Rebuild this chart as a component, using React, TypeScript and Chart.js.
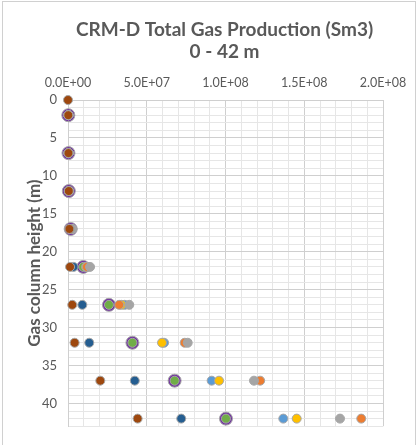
import React, { useEffect, useRef } from "react";
import { Chart, registerables } from "chart.js";

Chart.register(...registerables);

const depths = [0, 2, 7, 12, 17, 22, 27, 32, 37, 42];

const brownVals = [0, 0.2e6, 0.3e6, 0.5e6, 0.9e6, 1.3e6, 2.7e6, 4.2e6, 2.05e7, 4.42e7];
const darkBlueVals = [null, 0.2e6, 0.3e6, 0.5e6, 1.2e6, 3.5e6, 9.1e6, 1.35e7, 4.24e7, 7.19e7];
const grayVals = [null, 0.3e6, 0.4e6, 0.7e6, 2.8e6, 1.4e7, 3.89e7, 7.6e7, 1.181e8, 1.727e8];
const orangeVals = [null, 0.3e6, 0.4e6, 0.7e6, 2.2e6, 1.2e7, 3.25e7, 7.41e7, 1.22e8, 1.862e8];
const yellowVals = [null, 0.3e6, 0.4e6, 0.6e6, 2.0e6, 1.15e7, 3.4e7, 5.97e7, 9.59e7, 1.452e8];
const lightBlueVals = [null, 0.3e6, 0.4e6, 0.6e6, 2.0e6, 1.2e7, 3.6e7, 6.1e7, 9.12e7, 1.367e8];
const greenVals = [null, 0.2e6, 0.3e6, 0.5e6, 1.7e6, 9.7e6, 2.6e7, 4.09e7, 6.77e7, 1.003e8];
const purpleVals = [null, 0.2e6, 0.3e6, 0.5e6, 1.7e6, 9.7e6, 2.6e7, 4.09e7, 6.77e7, 1.003e8];

const xTickLabels = ["0.0E+00", "5.0E+07", "1.0E+08", "1.5E+08", "2.0E+08"];

const titleLines = ["CRM-D Total Gas Production (Sm3)", "0 - 42 m"];
const yTitle = "Gas column height (m)";

function toPoints(vals: (number | null)[]) {
  const out: { x: number; y: number }[] = [];
  vals.forEach((v, i) => {
    if (v !== null) out.push({ x: v, y: depths[i] });
  });
  return out;
}

const MAJOR = "#cfcfcf";
const MINOR = "#e6e6e6";
const TEXT = "#595959";
const FONT = "Lato, 'Open Sans', sans-serif";

const titlePlugin = {
  id: "fixedTitle",
  afterDraw(chart: any) {
    const ctx = chart.ctx;
    ctx.save();
    ctx.fillStyle = TEXT;
    ctx.font = `bold 19px ${FONT}`;
    ctx.textAlign = "center";
    ctx.textBaseline = "middle";
    ctx.fillText(titleLines[0], 224.5, 30);
    ctx.fillText(titleLines[1], 224.5, 52);
    ctx.restore();
  },
};

export default function App() {
  const ref = useRef<HTMLCanvasElement | null>(null);

  useEffect(() => {
    if (!ref.current) return;
    const mk = (label: string, vals: (number | null)[], color: string, r: number) => ({
      label,
      data: toPoints(vals),
      backgroundColor: color,
      borderColor: "#a6a6a6",
      borderWidth: 1,
      pointRadius: r,
      pointHoverRadius: r,
      showLine: false,
      clip: false as const,
    });
    const chart = new Chart(ref.current, {
      type: "scatter",
      data: {
        datasets: [
          mk("Series 8", brownVals, "#9E480E", 4.5),
          mk("Series 7", darkBlueVals, "#255E91", 4.5),
          mk("Series 6", grayVals, "#A5A5A5", 4.5),
          mk("Series 5", orangeVals, "#ED7D31", 4.5),
          mk("Series 4", yellowVals, "#FFC000", 4.5),
          mk("Series 3", lightBlueVals, "#5B9BD5", 4.5),
          mk("Series 2", greenVals, "#70AD47", 4.5),
          mk("Series 1", purpleVals, "#7030A0", 6.5),
        ],
      },
      plugins: [titlePlugin],
      options: {
        responsive: false,
        animation: false,
        layout: { padding: { left: 0, right: 34, top: 63, bottom: 12 } },
        plugins: {
          legend: { display: false },
          tooltip: { enabled: false },
          title: { display: false },
        },
        scales: {
          x: {
            type: "linear",
            position: "top",
            min: 0,
            max: 2e8,
            afterFit: (s: any) => {
              s.height = 37;
            },
            ticks: {
              stepSize: 1e7,
              autoSkip: false,
              maxRotation: 0,
              padding: 10,
              color: TEXT,
              font: { family: FONT, size: 12.5 },
              callback: (v: any) => {
                const n = Number(v);
                if (Math.round(n / 1e7) % 5 !== 0) return "";
                return xTickLabels[Math.round(n / 5e7)] ?? "";
              },
            },
            grid: {
              drawTicks: false,
              color: (c: any) =>
                Math.round(c.tick.value / 1e7) % 5 === 0 ? MAJOR : MINOR,
            },
            border: { display: true, color: MAJOR },
          },
          y: {
            type: "linear",
            reverse: true,
            min: 0,
            max: 43,
            afterFit: (s: any) => {
              s.width = 68;
            },
            ticks: {
              stepSize: 1,
              autoSkip: false,
              padding: 11,
              color: TEXT,
              font: { family: FONT, size: 13 },
              callback: (v: any) => (Number(v) % 5 === 0 ? String(v) : ""),
            },
            grid: {
              drawTicks: false,
              color: (c: any) => (c.tick.value % 5 === 0 ? MAJOR : MINOR),
            },
            border: { display: true, color: MAJOR },
            title: {
              display: true,
              text: yTitle,
              color: TEXT,
              font: { family: FONT, size: 17, weight: "bold" },
              padding: { top: 24, bottom: 0 },
            },
          },
        },
      },
    });
    return () => chart.destroy();
  }, []);

  return (
    <div
      style={{
        position: "fixed",
        left: 0,
        top: 0,
        width: 417,
        height: 445,
        overflow: "hidden",
        background: "#fff",
      }}
    >
      <div
        style={{
          position: "absolute",
          left: 2,
          top: 1,
          width: 414,
          height: 470,
          border: "1px solid #d0d0d0",
          boxSizing: "border-box",
        }}
      />
      <canvas
        ref={ref}
        width={417}
        height={445}
        style={{ position: "absolute", left: 0, top: 0, width: 417, height: 445 }}
      />
    </div>
  );
}
